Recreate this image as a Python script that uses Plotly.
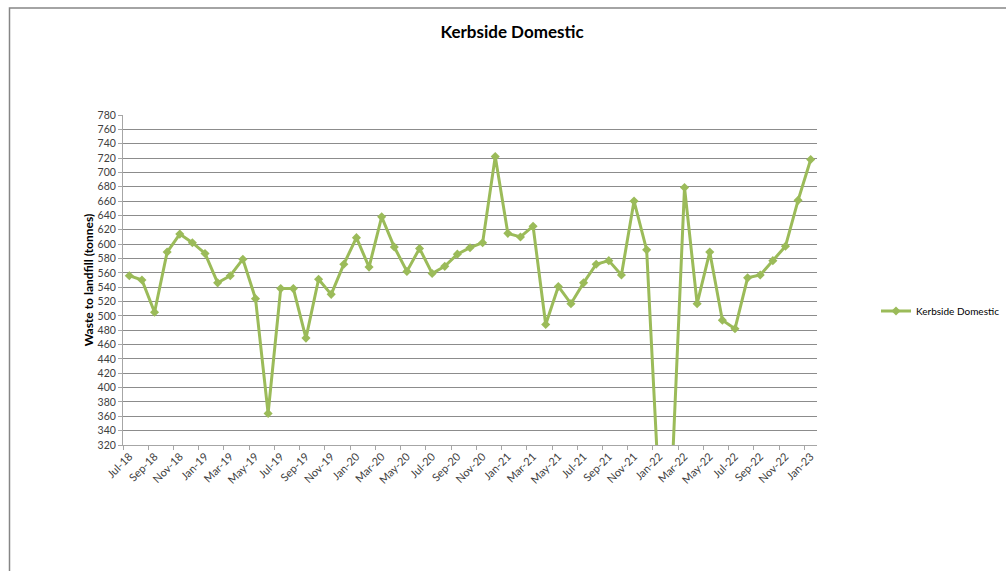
import plotly.graph_objects as go

# Monthly kerbside domestic waste sent to landfill, Jul-18 .. Jan-23
months = [
    "Jul-18", "Aug-18", "Sep-18", "Oct-18", "Nov-18", "Dec-18",
    "Jan-19", "Feb-19", "Mar-19", "Apr-19", "May-19", "Jun-19",
    "Jul-19", "Aug-19", "Sep-19", "Oct-19", "Nov-19", "Dec-19",
    "Jan-20", "Feb-20", "Mar-20", "Apr-20", "May-20", "Jun-20",
    "Jul-20", "Aug-20", "Sep-20", "Oct-20", "Nov-20", "Dec-20",
    "Jan-21", "Feb-21", "Mar-21", "Apr-21", "May-21", "Jun-21",
    "Jul-21", "Aug-21", "Sep-21", "Oct-21", "Nov-21", "Dec-21",
    "Jan-22", "Feb-22", "Mar-22", "Apr-22", "May-22", "Jun-22",
    "Jul-22", "Aug-22", "Sep-22", "Oct-22", "Nov-22", "Dec-22",
    "Jan-23",
]
tonnes = [
    556, 550, 505, 589, 614, 602,
    587, 546, 556, 579, 524, 364,
    538, 538, 469, 551, 530, 572,
    609, 568, 638, 596, 562, 594,
    559, 569, 586, 595, 602, 722,
    615, 610, 625, 488, 541, 517,
    546, 572, 577, 557, 660, 592,
    248, 276, 679, 517, 589, 494,
    482, 553, 557, 577, 597, 661,
    718,
]
y_ticks = list(range(320, 781, 20))

series_name = "Kerbside Domestic"
green = "#9BBB59"
font_family = "Lato, 'Open Sans', sans-serif"

idx = list(range(len(months)))
label_idx = idx[::2]
label_text = [months[i] for i in label_idx]
boundaries = [i - 0.5 for i in label_idx]

fig = go.Figure()
fig.add_trace(go.Scatter(
    x=idx, y=tonnes, name=series_name, mode="lines+markers",
    line=dict(color=green, width=3),
    marker=dict(symbol="diamond", size=7, color=green),
    showlegend=True,
))
# invisible trace on a second x axis, only used to carry boundary tick marks
fig.add_trace(go.Scatter(
    x=[idx[0], idx[-1]], y=[y_ticks[0], y_ticks[0]], xaxis="x2",
    mode="markers", marker=dict(opacity=0), showlegend=False, hoverinfo="skip",
))

x_range = [-0.5, len(months) - 0.5]
fig.update_layout(
    width=1006, height=571,
    margin=dict(l=123, r=189, t=115, b=126, autoexpand=False),
    paper_bgcolor="white", plot_bgcolor="white",
    font=dict(family=font_family, color="#404040", size=10),
    title=dict(
        text="<b>Kerbside Domestic</b>",
        x=512 / 1006, xref="container", xanchor="center",
        y=1 - 32 / 571, yref="container", yanchor="middle",
        font=dict(family=font_family, size=17, color="#000000"),
    ),
    xaxis=dict(
        range=x_range, tickmode="array", tickvals=label_idx, ticktext=label_text,
        tickangle=-45, ticks="", showgrid=False, zeroline=False,
        showline=True, linecolor="#A6A6A6", linewidth=1,
        tickfont=dict(size=11, color="#404040"),
    ),
    xaxis2=dict(
        range=x_range, overlaying="x", side="bottom", anchor="y",
        tickmode="array", tickvals=boundaries, ticktext=[""] * len(boundaries),
        ticks="outside", ticklen=4, tickcolor="#A6A6A6", showgrid=False,
        zeroline=False, showline=False,
    ),
    yaxis=dict(
        range=[y_ticks[0], y_ticks[-1]], tickmode="array", tickvals=y_ticks,
        showgrid=True, gridcolor="#8C8C8C", gridwidth=1, zeroline=False,
        showline=True, linecolor="#A6A6A6", linewidth=1,
        ticks="outside", ticklen=4, tickcolor="#A6A6A6",
        tickfont=dict(size=10.5, color="#404040"),
        title=dict(text="<b>Waste to landfill (tonnes)</b>", standoff=1,
                   font=dict(size=12, color="#000000")),
    ),
    legend=dict(
        xref="container", x=876 / 1006, xanchor="left",
        yref="container", y=1 - 311 / 571, yanchor="middle",
        font=dict(size=10, color="#000000"), bgcolor="rgba(0,0,0,0)",
        itemwidth=30,
    ),
    shapes=[dict(
        type="rect", xref="paper", yref="paper",
        x0=(9.5 - 123) / 694, x1=1.4, y0=-0.6, y1=(445 - 8) / 330,
        line=dict(color="#868686", width=1.5), fillcolor="rgba(0,0,0,0)",
        layer="below",
    )],
)

fig.write_html("out.html")
